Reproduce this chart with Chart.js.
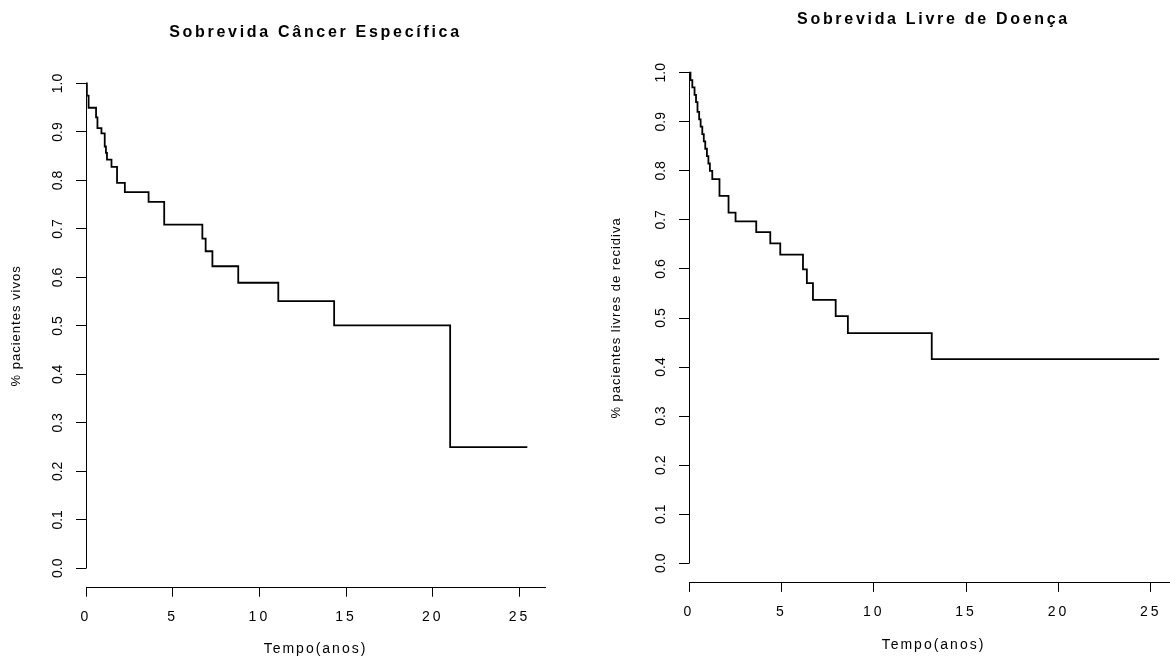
<!DOCTYPE html>
<html>
<head>
<meta charset="utf-8">
<script src="https://cdn.jsdelivr.net/npm/chart.js@4/dist/chart.umd.min.js"></script>
<style>
  html, body { margin: 0; padding: 0; background: #ffffff; overflow: hidden; width: 1170px; height: 658px; }
  #c1 { position: absolute; left: 0; top: 0; width: 585px; height: 658px; }
  #c2 { position: absolute; left: 585px; top: 0; width: 600px; height: 658px; }
</style>
</head>
<body>
<canvas id="c1" width="585" height="658"></canvas>
<canvas id="c2" width="600" height="658"></canvas>
<script>
// ---------- data ----------
const titleCSE = "Sobrevida Câncer Específica";
const titleSLD = "Sobrevida Livre de Doença";
const xAxisTitle = "Tempo(anos)";
const yTitleCSE = "% pacientes vivos";
const yTitleSLD = "% pacientes livres de recidiva";

// Kaplan-Meier: cancer-specific survival (time in years, survival proportion)
const timesCSE = [0, 0.05, 0.15, 0.58, 0.66, 0.89, 1.08, 1.15, 1.21, 1.47, 1.79, 2.24, 3.61, 4.51, 6.71, 6.90, 7.29, 8.78, 11.09, 14.31, 21.00, 25.45];
const survCSE  = [1.0, 0.975, 0.95, 0.93, 0.908, 0.897, 0.87, 0.857, 0.843, 0.828, 0.795, 0.776, 0.756, 0.709, 0.680, 0.654, 0.623, 0.589, 0.551, 0.501, 0.25, 0.25];

// Kaplan-Meier: disease-free survival
const timesSLD = [0, 0.08, 0.18, 0.30, 0.38, 0.46, 0.55, 0.63, 0.72, 0.80, 0.88, 0.97, 1.05, 1.13, 1.26, 1.65, 2.14, 2.52, 3.64, 4.40, 4.94, 6.17, 6.38, 6.71, 7.94, 8.60, 13.14, 25.45];
const survSLD  = [1.0, 0.985, 0.97, 0.955, 0.94, 0.92, 0.905, 0.89, 0.875, 0.86, 0.845, 0.83, 0.815, 0.80, 0.783, 0.749, 0.715, 0.697, 0.675, 0.652, 0.629, 0.599, 0.571, 0.537, 0.504, 0.469, 0.416, 0.416];

// ---------- styling ----------
const FONT = "'Liberation Sans', Arial, sans-serif";
const INK = "#000000";
const X_MIN = 0, X_MAX = 26.47;   // plot region (axis line runs past last tick)
const Y_MIN = -0.04, Y_MAX = 1.04;

Chart.defaults.font.family = FONT;
Chart.defaults.color = INK;

// letter spacing per text element (reference renders text with wide tracking)
const spacingPlugin = {
  id: 'rSpacing',
  beforeDraw(chart) {
    chart.ctx.letterSpacing = chart.options.plugins.rSpacing.title;
  },
  afterUpdate(chart) {
    const o = chart.options.plugins.rSpacing;
    Object.values(chart.scales).forEach(s => {
      if (s._lsPatched) return;
      s._lsPatched = true;
      const proto = Object.getPrototypeOf(s);
      const cfg = o[s.id];
      s.drawLabels = function (area) {
        const c = this.ctx, p = c.letterSpacing;
        c.letterSpacing = cfg.ticks; proto.drawLabels.call(this, area); c.letterSpacing = p;
      };
      s.drawTitle = function () {
        const c = this.ctx, p = c.letterSpacing;
        c.letterSpacing = cfg.title; proto.drawTitle.call(this); c.letterSpacing = p;
      };
    });
  }
};

// y axis line spanning only the tick range (0 .. 1)
const yAxisLinePlugin = {
  id: 'yAxisLine',
  beforeDatasetsDraw(chart) {
    const { ctx, scales: { x, y } } = chart;
    const ticks = y.ticks;
    const xp = Math.round(x.getPixelForValue(X_MIN)) + 0.5;
    const yA = Math.round(y.getPixelForValue(ticks[0].value)) + 0.5;
    const yB = Math.round(y.getPixelForValue(ticks[ticks.length - 1].value)) + 0.5;
    ctx.save();
    ctx.strokeStyle = INK;
    ctx.lineWidth = 1;
    ctx.beginPath();
    ctx.moveTo(xp, yA);
    ctx.lineTo(xp, yB);
    ctx.stroke();
    ctx.restore();
  }
};

function makeChart(canvasId, cfg) {
  const points = cfg.times.map((t, i) => ({ x: t, y: cfg.surv[i] }));
  return new Chart(document.getElementById(canvasId), {
    type: 'line',
    data: {
      datasets: [{
        data: points,
        borderColor: INK,
        borderWidth: 1.8,
        pointRadius: 0,
        stepped: 'before',
        fill: false
      }]
    },
    options: {
      responsive: false,
      animation: false,
      events: [],
      layout: { padding: { left: 0, right: cfg.padRight, top: 0, bottom: 0 } },
      plugins: {
        legend: { display: false },
        tooltip: { enabled: false },
        title: {
          display: true,
          text: cfg.title,
          fullSize: false,
          color: INK,
          font: { family: FONT, size: 16, weight: 'bold' },
          padding: { top: cfg.titleTop, bottom: cfg.titleBottom }
        },
        rSpacing: {
          title: '2.7px',
          x: { ticks: '3px', title: '2px' },
          y: { ticks: '0px', title: '1px' }
        }
      },
      scales: {
        x: {
          type: 'linear',
          min: X_MIN,
          max: X_MAX,
          afterFit: s => { s.height = cfg.xHeight; },
          ticks: {
            stepSize: 5,
            includeBounds: false,
            autoSkip: false,
            maxRotation: 0,
            padding: 12,
            color: INK,
            font: { family: FONT, size: 14 }
          },
          grid: { drawOnChartArea: false, drawTicks: true, tickLength: 9, color: INK, lineWidth: 1 },
          border: { display: true, color: INK, width: 1 },
          title: {
            display: true,
            text: xAxisTitle,
            color: INK,
            font: { family: FONT, size: 14 },
            padding: { top: 0, bottom: cfg.xTitleBottom }
          }
        },
        y: {
          type: 'linear',
          min: Y_MIN,
          max: Y_MAX,
          afterFit: s => { s.width = cfg.yWidth; },
          ticks: {
            stepSize: 0.1,
            includeBounds: false,
            minRotation: 90,
            maxRotation: 90,
            crossAlign: 'center',
            padding: 8,
            color: INK,
            font: { family: FONT, size: 14 },
            callback: v => Number(v).toFixed(1)
          },
          grid: { drawOnChartArea: false, drawTicks: true, tickLength: 10, color: INK, lineWidth: 1 },
          border: { display: false },
          title: {
            display: true,
            text: cfg.yTitle,
            color: INK,
            font: { family: FONT, size: 13 },
            padding: { top: cfg.yTitleTop, bottom: 0 }
          }
        }
      }
    },
    plugins: [spacingPlugin, yAxisLinePlugin]
  });
}

makeChart('c1', {
  title: titleCSE, yTitle: yTitleCSE, times: timesCSE, surv: survCSE,
  padRight: 40, yWidth: 86, xHeight: 70.3, titleTop: 23.4, titleBottom: 21.5,
  xTitleBottom: 0, yTitleTop: 9
});

makeChart('c2', {
  title: titleSLD, yTitle: yTitleSLD, times: timesSLD, surv: survSLD,
  padRight: 7, yWidth: 104, xHeight: 75.1, titleTop: 10.4, titleBottom: 23.5,
  xTitleBottom: 4.6, yTitleTop: 24
});
</script>
</body>
</html>
